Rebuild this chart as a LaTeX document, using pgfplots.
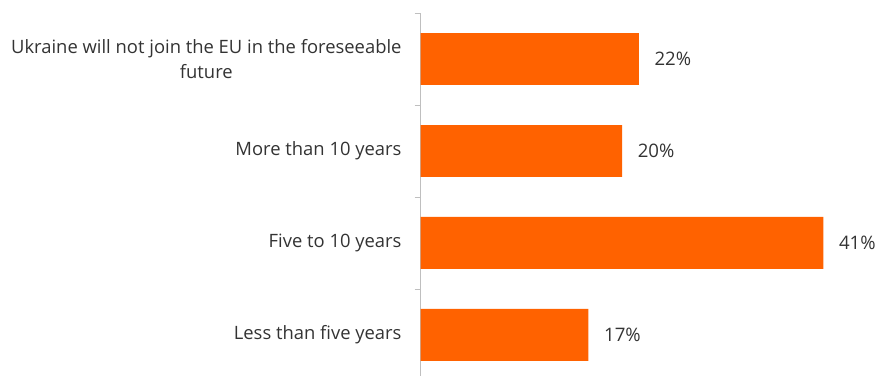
\documentclass[border=0pt]{standalone}
\usepackage{pgfplots}
\pgfplotsset{compat=1.18}
\usepackage{pgfplotstable}
\usepackage{fontspec}
\setmainfont{Open Sans}
\definecolor{ingorange}{HTML}{FF6200}
\definecolor{txtgray}{HTML}{333333}
\definecolor{axgray}{HTML}{BFBFBF}
\pgfplotstableread{
x y lab
22.1 0 22\%
20.4 1 20\%
40.8 2 41\%
17.0 3 17\%
}\datatable
\begin{document}
\begin{tikzpicture}
\useasboundingbox (0,0) rectangle (878pt,376pt);
\begin{axis}[
  at={(420.7pt,0pt)}, anchor=south west,
  scale only axis,
  width=444.15pt, height=363pt,
  xmin=0, xmax=45,
  ymin=-0.5, ymax=3.446,
  y dir=reverse,
  xbar, bar width=0.565,
  axis x line=none,
  axis y line*=left,
  y axis line style={axgray, line width=0.8pt, -},
  ytick={0,1,2,3},
  yticklabels={{Ukraine will not join the EU in the foreseeable\\future},{More than 10 years},{Five to 10 years},{Less than five years}},
  major tick length=0pt,
  minor ytick={-0.5,0.5,1.5,2.5},
  minor tick length=6pt,
  tick align=outside,
  minor tick style={axgray, line width=0.8pt},
  yticklabel style={align=center, font=\fontsize{18.4}{25}\selectfont, text=txtgray, inner sep=0pt, xshift=-19pt},
  point meta=explicit symbolic,
  nodes near coords,
  nodes near coords style={anchor=west, inner sep=0pt, xshift=15.5pt, font=\fontsize{18.6}{20}\selectfont, text=txtgray},
  clip=false,
]
\addplot[fill=ingorange, draw=none] table[x=x, y=y, meta=lab] {\datatable};
\end{axis}
\end{tikzpicture}
\end{document}
